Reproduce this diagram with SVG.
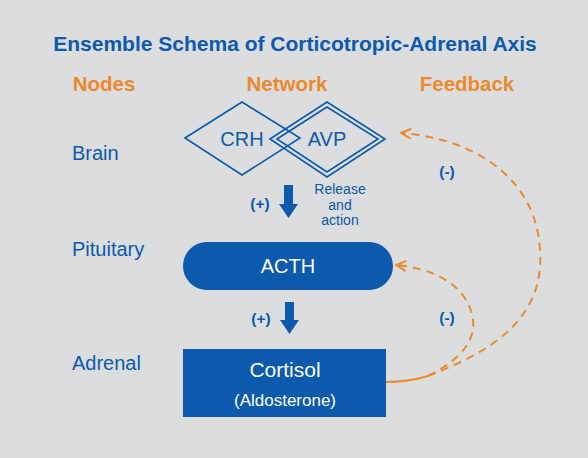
<svg xmlns="http://www.w3.org/2000/svg" width="588" height="458" viewBox="0 0 588 458">
<defs>
<style>
.t{font-family:"Liberation Sans",Arial,sans-serif;}
.title{font-size:21px;font-weight:bold;fill:#0b5aad;}
.head{font-size:20.5px;font-weight:bold;fill:#ec8a2d;}
.lab{font-size:20px;fill:#0b5aad;}
.sign{font-size:15.5px;font-weight:bold;fill:#0b5aad;}
.small{font-size:14px;fill:#0b5aad;}
.wt{fill:#ffffff;}
.dia{fill:none;stroke:#0b5aad;stroke-width:1.6;}
.fb{fill:none;stroke:#ec8a2d;stroke-width:2;stroke-dasharray:8 6;}
.blue{fill:#0b5aad;}
</style>
<marker id="ah" markerWidth="12" markerHeight="12" refX="11" refY="6" orient="auto" markerUnits="userSpaceOnUse">
<path d="M1,1 L11,6 L1,11" fill="none" stroke="#ec8a2d" stroke-width="2"/>
</marker>
</defs>
<rect width="588" height="458" fill="#dcdddf"/>
<g id="headers" class="t">
<text class="title" x="295" y="51" text-anchor="middle">Ensemble Schema of Corticotropic-Adrenal Axis</text>
<text class="head" x="104" y="91" text-anchor="middle">Nodes</text>
<text class="head" x="287" y="91" text-anchor="middle">Network</text>
<text class="head" x="467" y="91" text-anchor="middle">Feedback</text>
<text class="lab" x="72" y="160">Brain</text>
<text class="lab" x="72" y="256">Pituitary</text>
<text class="lab" x="72" y="370">Adrenal</text>
</g>
<g id="crh" class="t">
<polygon class="dia" points="185,138 242,102 300,138 242,175"/>
<text class="lab" x="242" y="146" text-anchor="middle">CRH</text>
</g>
<g id="avp" class="t">
<polygon class="dia" points="270,139 327,102 385,139 327,177"/>
<polygon class="dia" points="277,139 327,107 378,139 327,172"/>
<text class="lab" x="327" y="146" text-anchor="middle">AVP</text>
</g>
<g id="acth" class="t">
<rect class="blue" x="183" y="242" width="210" height="48" rx="24"/>
<text class="lab wt" x="288" y="273" text-anchor="middle">ACTH</text>
</g>
<g id="cortisol" class="t">
<rect class="blue" x="183" y="349" width="203" height="68"/>
<text class="lab wt" x="285" y="377" text-anchor="middle" style="font-size:21px">Cortisol</text>
<text class="lab wt" x="285" y="406" text-anchor="middle" style="font-size:17px">(Aldosterone)</text>
</g>
<g id="connectors">
<g id="arrow1">
<polygon class="blue" points="284,185 293,185 293,204 298,204 288.5,218 279,204 284,204"/>
<text class="t sign" x="260" y="209" text-anchor="middle">(+)</text>
<text class="t small" x="340" y="194" text-anchor="middle">Release</text>
<text class="t small" x="340" y="210" text-anchor="middle">and</text>
<text class="t small" x="340" y="225" text-anchor="middle">action</text>
</g>
<g id="arrow2">
<polygon class="blue" points="285,302 294,302 294,320 299,320 289.5,334 280,320 285,320"/>
<text class="t sign" x="261" y="324" text-anchor="middle">(+)</text>
</g>
<g id="feedback">
<path d="M386,382 Q408,382 428,376" fill="none" stroke="#ec8a2d" stroke-width="2"/>
<path class="fb" d="M428,376 C490,352 545,320 540,250 C536,175 470,138 401,133" marker-end="url(#ah)"/>
<path class="fb" d="M428,376 C460,360 482,338 470,308 C460,282 430,268 396,265" marker-end="url(#ah)"/>
<text class="t sign" x="447" y="177" text-anchor="middle">(-)</text>
<text class="t sign" x="447" y="323" text-anchor="middle">(-)</text>
</g>
</g>
</svg>
